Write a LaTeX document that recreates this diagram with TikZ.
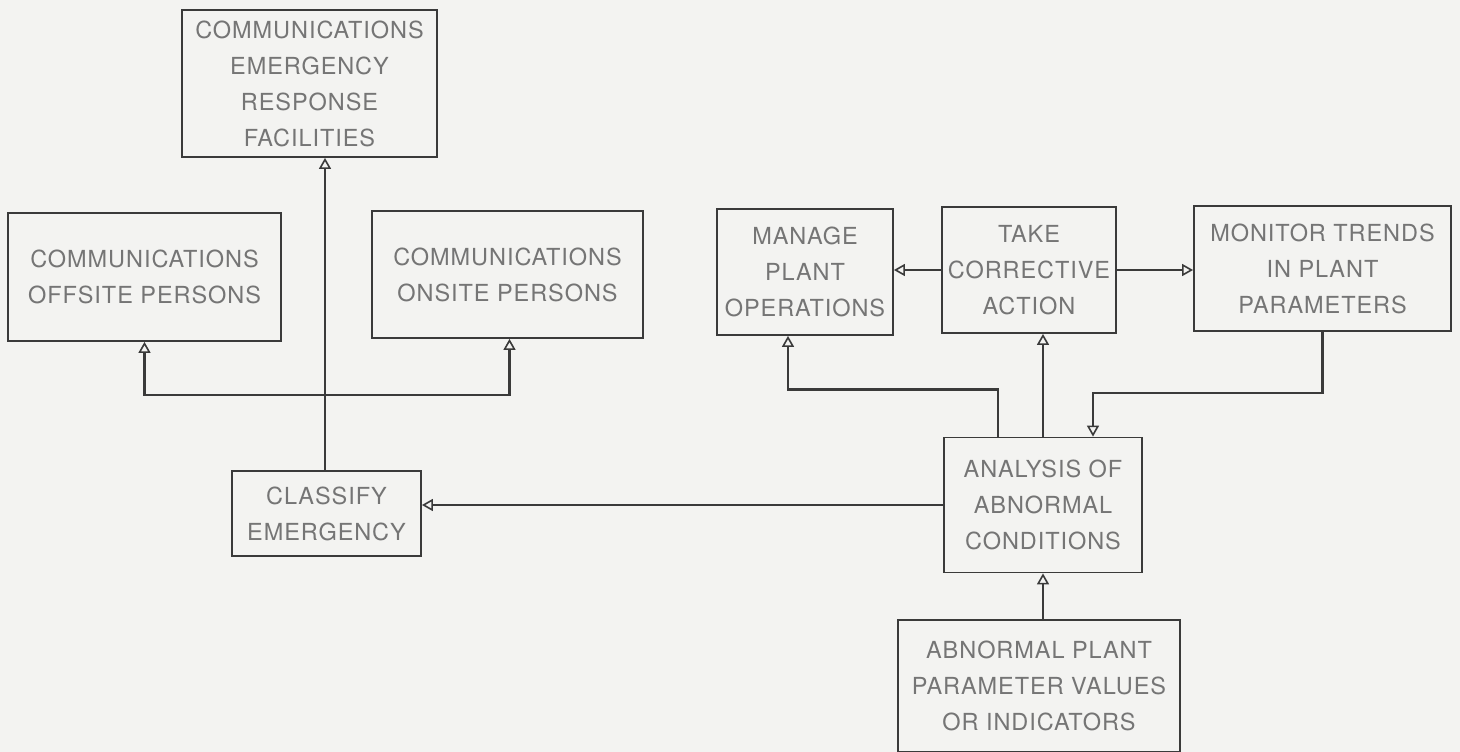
\documentclass[tikz,border=0pt]{standalone}
\usepackage{fontspec}
\setsansfont[LetterSpace=4]{TeX Gyre Heros}
\usetikzlibrary{arrows.meta}
\definecolor{paper}{HTML}{F3F3F1}
\definecolor{ink}{HTML}{3A3A3A}
\definecolor{letter}{HTML}{757575}
\begin{document}
\begin{tikzpicture}[x=1pt, y=-1pt,
   block/.style={draw=ink, line width=1.8pt, align=center, inner sep=0pt,
      text=letter, font=\sffamily\fontsize{23.5}{36}\selectfont},
   flow/.style={draw=ink, line width=2.6pt,
      -{Triangle[open, length=11pt, width=12pt, line width=1.6pt]}}]
   \fill[paper] (0, 0) rectangle (1460, 752);
   \useasboundingbox (0, 0) rectangle (1460, 752);
   % left group
   \node[block, minimum width=255pt, minimum height=147pt] (erf) at (309.5, 83.5)
      {COMMUNICATIONS\\EMERGENCY\\RESPONSE\\FACILITIES};
   \node[block, minimum width=273pt, minimum height=128pt] (offsite) at (144.5, 277)
      {COMMUNICATIONS\\OFFSITE PERSONS};
   \node[block, minimum width=271pt, minimum height=127pt] (onsite) at (507.5, 274.5)
      {COMMUNICATIONS\\ONSITE PERSONS};
   \node[block, minimum width=189pt, minimum height=85pt] (classify) at (326.5, 513.5)
      {CLASSIFY\\EMERGENCY};
   % right group
   \node[block, minimum width=176pt, minimum height=126pt] (manage) at (805, 272)
      {MANAGE\\PLANT\\OPERATIONS};
   \node[block, minimum width=174pt, minimum height=126pt] (take) at (1029, 270)
      {TAKE\\CORRECTIVE\\ACTION};
   \node[block, minimum width=257pt, minimum height=125pt] (monitor) at (1322.5, 268.5)
      {MONITOR TRENDS\\IN PLANT\\PARAMETERS};
   \node[block, minimum width=198pt, minimum height=135pt] (analysis) at (1043, 505)
      {ANALYSIS OF\\ABNORMAL\\CONDITIONS};
   \node[block, minimum width=282pt, minimum height=132pt] (abnormal) at (1039, 686)
      {ABNORMAL PLANT\\PARAMETER VALUES\\OR INDICATORS};
   \coordinate (split) at (325, 395);
   % connectors
   \draw[flow] (325, 0 |- classify.north) -- (325, 0 |- erf.south);
   \draw[flow] (split) -| (offsite.south);
   \draw[flow] (split) -| ([xshift=2pt]onsite.south);
   \draw[flow] (analysis.west) -- (analysis.west -| classify.east);
   \draw[flow] (take.west) -- (take.west -| manage.east);
   \draw[flow] (take.east) -- (take.east -| monitor.west);
   \draw[flow] (analysis.north) -- (analysis.north |- take.south);
   \draw[flow] ([xshift=-45pt]analysis.north) -- ++(0, -47) -| ([xshift=-17pt]manage.south);
   \draw[flow] (monitor.south) -- ++(0, 61) -| ([xshift=50pt]analysis.north);
   \draw[flow] (abnormal.north -| analysis.south) -- (analysis.south);
\end{tikzpicture}
\end{document}
